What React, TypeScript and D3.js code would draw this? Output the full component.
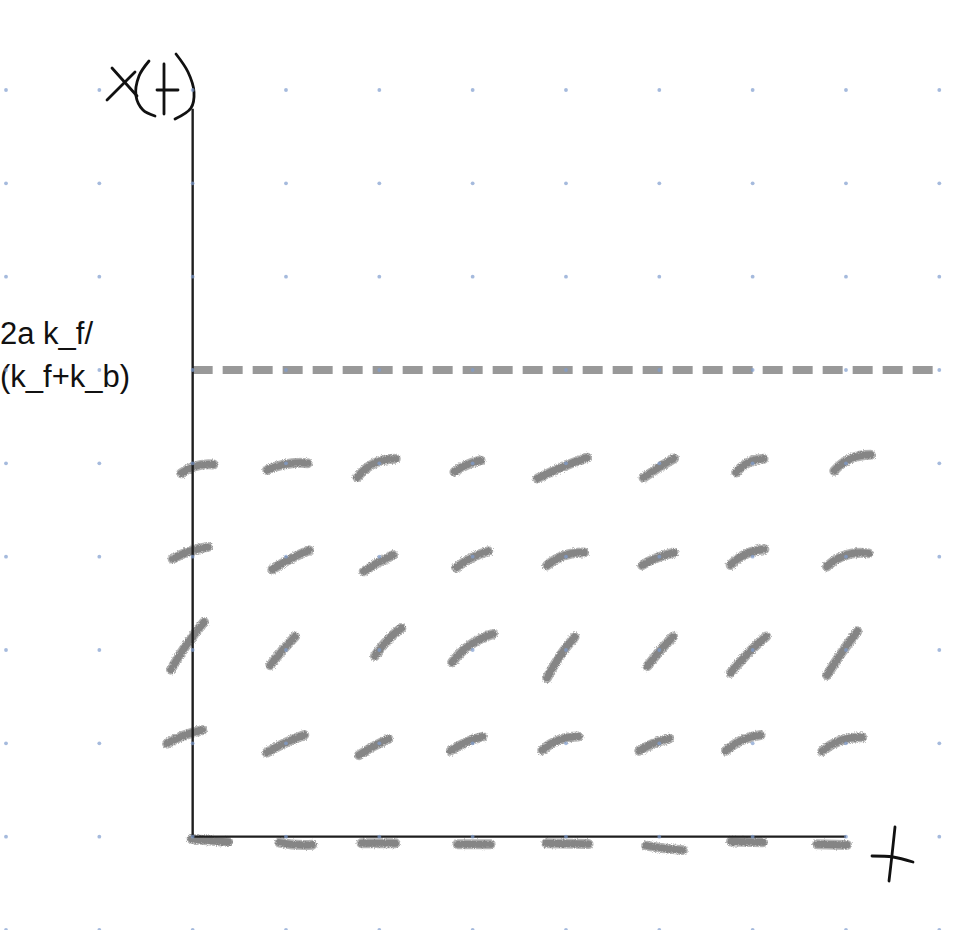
import * as d3 from 'd3';

// dotted paper grid (data units: t across, X up)
const gridT = [-2, -1, 0, 1, 2, 3, 4, 5, 6, 7, 8];
const gridX = [-1, 0, 1, 2, 3, 4, 5, 6, 7, 8];

// equilibrium level drawn as dashed line
const equilibriumX = 5;
const equilibriumLabel = ['2a k_f/', '(k_f+k_b)'];

// hand-drawn slope marks per row: [t0, X0, t1, X1, bend]
const marksRow4 = [
  [-0.17, 3.88, 0.27, 4.0, 0.12],
  [0.75, 3.92, 1.28, 4.01, 0.08],
  [1.72, 3.83, 2.22, 4.07, 0.15],
  [2.76, 3.89, 3.13, 4.05, 0.06],
  [3.65, 3.82, 4.27, 4.08, 0.02],
  [4.79, 3.82, 5.2, 4.08, 0.02],
  [5.78, 3.88, 6.16, 4.07, 0.14],
  [6.83, 3.9, 7.31, 4.11, 0.14],
];
const marksRow3 = [
  [-0.26, 2.96, 0.21, 3.12, 0.06],
  [0.81, 2.84, 1.29, 3.09, 0.03],
  [1.79, 2.82, 2.19, 3.04, 0.03],
  [2.78, 2.86, 3.21, 3.08, 0.06],
  [3.75, 2.89, 4.24, 3.06, 0.12],
  [4.77, 2.89, 5.2, 3.06, 0.05],
  [5.72, 2.89, 6.17, 3.1, 0.12],
  [6.75, 2.88, 7.29, 3.05, 0.15],
];
const marksRow2 = [
  [-0.26, 1.75, 0.15, 2.34, 0.03],
  [0.8, 1.8, 1.13, 2.18, 0.02],
  [1.92, 1.9, 2.27, 2.27, 0.06],
  [2.74, 1.84, 3.26, 2.2, 0.1],
  [3.77, 1.66, 4.12, 2.18, 0.04],
  [4.84, 1.79, 5.18, 2.18, 0.02],
  [5.73, 1.72, 6.18, 2.18, 0.03],
  [6.77, 1.69, 7.15, 2.24, 0.02],
];
const marksRow1 = [
  [-0.32, 0.98, 0.15, 1.16, 0.05],
  [0.75, 0.88, 1.24, 1.11, 0.03],
  [1.74, 0.85, 2.14, 1.07, 0.03],
  [2.72, 0.9, 3.15, 1.09, 0.06],
  [3.7, 0.91, 4.18, 1.09, 0.12],
  [4.74, 0.9, 5.15, 1.07, 0.06],
  [5.67, 0.9, 6.13, 1.11, 0.1],
  [6.7, 0.9, 7.22, 1.08, 0.12],
];
const marksRow0 = [
  [-0.06, -0.02, 0.43, -0.06, 0],
  [0.88, -0.06, 1.33, -0.09, -0.04],
  [1.76, -0.07, 2.22, -0.07, 0],
  [2.79, -0.08, 3.24, -0.08, 0],
  [3.74, -0.07, 4.29, -0.08, 0],
  [4.81, -0.09, 5.3, -0.15, -0.02],
  [5.72, -0.05, 6.16, -0.06, 0],
  [6.64, -0.08, 7.06, -0.09, 0],
];

const W = 972;
const H = 930;
const CAP = 4.5; // round cap radius, ends above are outer ink edges

const x = d3.scaleLinear().domain([-2, 8]).range([6, 939.3]);
const y = d3.scaleLinear().domain([-1, 8]).range([930, 90]);

function markPath(m: number[]) {
  const [t0, v0, t1, v1, bend] = m;
  let x0 = x(t0), y0 = y(v0), x1 = x(t1), y1 = y(v1);
  const len0 = Math.hypot(x1 - x0, y1 - y0);
  const ux = (x1 - x0) / len0, uy = (y1 - y0) / len0;
  // pull the ends in so the caps land on the ink extents
  x0 += ux * CAP; y0 += uy * CAP;
  x1 -= ux * CAP; y1 -= uy * CAP;
  const len = len0 - 2 * CAP;
  // bulge toward the upper-left side of the stroke
  const cx = (x0 + x1) / 2 + uy * bend * len * 1.6;
  const cy = (y0 + y1) / 2 - ux * bend * len * 1.6;
  const p = d3.path();
  p.moveTo(x0, y0);
  p.quadraticCurveTo(cx, cy, x1, y1);
  return p.toString();
}

// handwriting for the axis labels
const pen = d3.line().curve(d3.curveCatmullRom.alpha(0.5));
const xLabelStrokes: [number, number][][] = [
  [[112, 68], [137, 96]],
  [[107, 100], [135, 72]],
  [[149, 61], [139, 76], [136, 96], [143, 110], [155, 116]],
  [[164, 64], [164, 114]],
  [[157, 90], [178, 90]],
  [[176, 54], [188, 72], [194, 92], [191, 108], [175, 119]],
];
const tLabelStrokes: [number, number][][] = [
  [[895, 827], [892, 855], [889, 881]],
  [[872, 856], [893, 857], [913, 862]],
];

export default function App() {
  const allMarks = [...marksRow4, ...marksRow3, ...marksRow2, ...marksRow1, ...marksRow0];
  const dots: [number, number][] = [];
  gridX.forEach(v => gridT.forEach(t => dots.push([x(t), y(v)])));

  return (
    <svg
      width={W}
      height={H}
      style={{ position: 'absolute', left: 0, top: 0, background: '#fff' }}
    >
      <defs>
        <filter id="chalk" x="-20%" y="-40%" width="140%" height="180%">
          <feTurbulence type="fractalNoise" baseFrequency="0.9" numOctaves="2" seed="3" result="n" />
          <feDisplacementMap in="SourceGraphic" in2="n" scale="3.5" xChannelSelector="R" yChannelSelector="G" />
          <feGaussianBlur stdDeviation="0.5" />
        </filter>
      </defs>

      {/* equilibrium dashed line */}
      <line
        x1={x(0)} x2={x(8)}
        y1={y(equilibriumX)} y2={y(equilibriumX)}
        stroke="#999" strokeWidth={8} strokeDasharray="20 10"
      />
      <text fontFamily="Liberation Sans, Arial, sans-serif" fontSize={31} fill="#111">
        <tspan x={0} y={344}>{equilibriumLabel[0]}</tspan>
        <tspan x={0} y={387}>{equilibriumLabel[1]}</tspan>
      </text>

      {/* slope marks */}
      <g filter="url(#chalk)" fill="none" strokeLinecap="round">
        {allMarks.map((m, i) => (
          <g key={i}>
            <path d={markPath(m)} stroke="#b4b4b4" strokeWidth={10} />
            <path d={markPath(m)} stroke="#858585" strokeWidth={7} />
          </g>
        ))}
      </g>

      {/* axes */}
      <line x1={x(0)} x2={x(0)} y1={y(7.8)} y2={y(0)} stroke="#1e1e1e" strokeWidth={2.4} />
      <line x1={x(0)} x2={x(7)} y1={y(0)} y2={y(0)} stroke="#1e1e1e" strokeWidth={2.4} />

      {/* handwritten labels */}
      <g fill="none" stroke="#111" strokeWidth={2.8} strokeLinecap="round" strokeLinejoin="round">
        {xLabelStrokes.map((s, i) => <path key={'x' + i} d={pen(s) ?? ''} />)}
        {tLabelStrokes.map((s, i) => <path key={'t' + i} d={pen(s) ?? ''} />)}
      </g>

      {/* paper dots */}
      <g fill="#7f9ccf" fillOpacity={0.7}>
        {dots.map((d, i) => <circle key={i} cx={d[0]} cy={d[1]} r={1.9} />)}
      </g>
    </svg>
  );
}
